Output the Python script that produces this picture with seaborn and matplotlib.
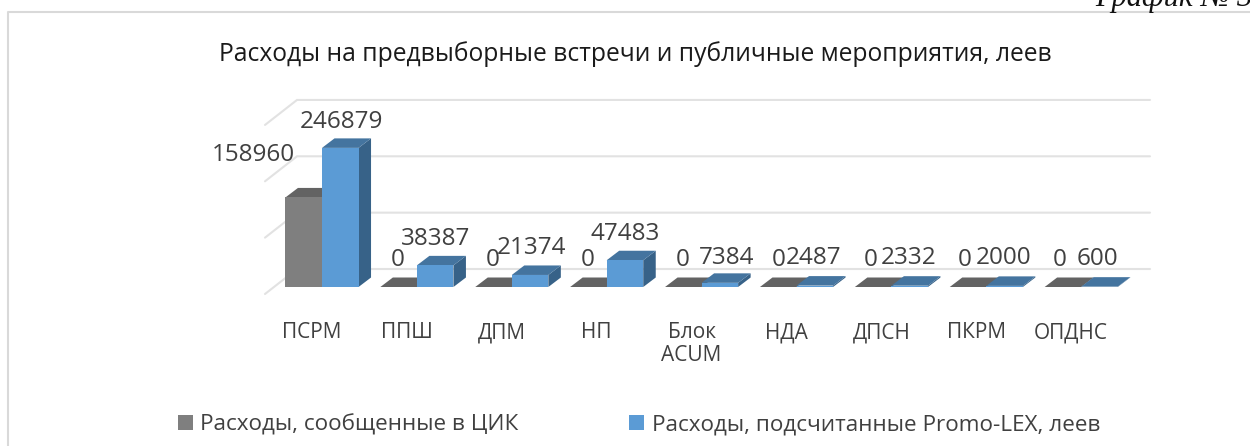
import matplotlib
matplotlib.use("Agg")
import matplotlib.pyplot as plt
import matplotlib.transforms as mtrans
from matplotlib.lines import Line2D
from matplotlib.patches import Polygon, Patch
import pandas as pd
import seaborn as sns

categories = ["ПСРМ", "ППШ", "ДПМ", "НП", "Блок\nACUM", "НДА", "ДПСН", "ПКРМ", "ОПДНС"]
reported = [158960, 0, 0, 0, 0, 0, 0, 0, 0]
counted = [246879, 38387, 21374, 47483, 7384, 2487, 2332, 2000, 600]
series_names = ["Расходы, сообщенные в ЦИК", "Расходы, подсчитанные Promo-LEX, леев"]
grid_values = [0, 100000, 200000, 300000]
title_text = "Расходы на предвыборные встречи и публичные мероприятия, леев"
corner_text = "График № 3"

# label nudges in pixels (dx, dy above the bar top)
reported_dx = [-50, -1, -1, -1, -1, 0, -2, -3, -3]
reported_dy = [42, 27, 27, 27, 27, 27, 27, 27, 27]
counted_dx = [1, 0, 1, 0, 7, -1, -1, -1, -2]
counted_dy = [26, 26, 27, 26, 25, 28, 28, 28, 28]

W, H = 1250, 446
PX_PER_CAT = 94.9
PX_PER_UNIT = 0.5635 / 1000
X0, Y0, AX_BOTTOM = 322.0, 287.0, 310.0
DEPTH_X, DEPTH_Y = 12.5, 9.5
GRAY, BLUE = "#7F7F7F", "#5B9BD5"
GRAY_TOP, GRAY_SIDE = "#636363", "#5C5C5C"
BLUE_TOP, BLUE_SIDE = "#44749F", "#376288"
GRID = "#E2E2E2"
FONT = "Open Sans"
TEXT = "#404040"

sns.set_theme(style="white")
plt.rcParams["font.family"] = [FONT, "DejaVu Sans"]

fig = plt.figure(figsize=(W / 100, H / 100), dpi=100)
ax = fig.add_axes([0, 1 - AX_BOTTOM / H, 1, AX_BOTTOM / H])
ax.patch.set_alpha(0)

df = pd.DataFrame({
    "cat": categories * 2,
    "value": reported + counted,
    "series": [series_names[0]] * 9 + [series_names[1]] * 9,
})
sns.barplot(data=df, x="cat", y="value", hue="series", palette=[GRAY, BLUE],
            width=0.77, gap=0, dodge=True, legend=False, saturation=1,
            errorbar=None, ax=ax, zorder=3, linewidth=0, edgecolor="none")

ax.set_xlim(-X0 / PX_PER_CAT, (W - X0) / PX_PER_CAT)
ax.set_ylim((Y0 - AX_BOTTOM) / PX_PER_UNIT, Y0 / PX_PER_UNIT)
ax.set_xlabel("")
ax.set_ylabel("")
ax.set_yticks([])
for s in ax.spines.values():
    s.set_visible(False)
ax.tick_params(axis="x", length=0, pad=9, labelsize=15, labelcolor=TEXT)
shift = mtrans.ScaledTranslation(-10 / 100, 0, fig.dpi_scale_trans)
for lab in ax.get_xticklabels():
    lab.set_transform(lab.get_transform() + shift)
    lab.set_linespacing(1.12)

dxu = 1 / PX_PER_CAT
dyu = 1 / PX_PER_UNIT

# back wall and floor rules
wall_left, wall_right, edge_left = 297, 1150, 265
wall_lift = 18
for v in grid_values:
    yb = v + wall_lift * dyu
    xa = (wall_left - X0) * dxu
    xb = (wall_right - X0) * dxu
    xc = (edge_left - X0) * dxu
    ax.plot([xc, xa, xb], [yb - 25 * dyu, yb, yb], color=GRID, lw=1.5, zorder=1,
            clip_on=False, solid_joinstyle="miter")

bars = list(ax.patches)
rep_bars, cnt_bars = bars[:9], bars[9:18]


def depth(bar, top_color, side_color, z):
    x, w, h = bar.get_x(), bar.get_width(), bar.get_height()
    ox, oy = DEPTH_X * dxu, DEPTH_Y * dyu
    ax.add_patch(Polygon([(x + w, 0), (x + w + ox, oy), (x + w + ox, h + oy), (x + w, h)],
                         closed=True, fc=side_color, ec="none", zorder=z))
    ax.add_patch(Polygon([(x, h), (x + ox, h + oy), (x + w + ox, h + oy), (x + w, h)],
                         closed=True, fc=top_color, ec="none", zorder=z))


for b in rep_bars:
    b.set_zorder(3)
    depth(b, GRAY_TOP, GRAY_SIDE, 2.5)
for b in cnt_bars:
    b.set_zorder(4)
    depth(b, BLUE_TOP, BLUE_SIDE, 3.5)

for b, v, dx, dy in zip(rep_bars, reported, reported_dx, reported_dy):
    ax.text(b.get_x() + b.get_width() / 2 + dx * dxu, v + dy * dyu, str(v),
            ha="center", va="center", fontsize=17.5, color=TEXT, zorder=6, clip_on=False)
for b, v, dx, dy in zip(cnt_bars, counted, counted_dx, counted_dy):
    ax.text(b.get_x() + b.get_width() / 2 + dx * dxu, v + dy * dyu, str(v),
            ha="center", va="center", fontsize=17.5, color=TEXT, zorder=6, clip_on=False)

fig.text(635 / W, 1 - 54 / H, title_text, ha="center", va="center", fontsize=17.7, color="#1a1a1a")
fig.text(1095 / W, 1 - 6 / H, corner_text, ha="left", va="baseline", fontsize=22,
         style="italic", family="Liberation Serif", color="#111111")

# chart frame
fig.add_artist(Line2D([8 / W, 8 / W, 1], [0, 1 - 12 / H, 1 - 12 / H], color="#D9D9D9", lw=1.5))

handles = [Patch(fc=GRAY, ec="none"), Patch(fc=BLUE, ec="none")]
fig.legend(handles, series_names, ncol=2, frameon=False, loc="center left",
           bbox_to_anchor=(178 / W, 1 - 425 / H), fontsize=16.2, labelcolor=TEXT,
           handlelength=0.65, handleheight=0.65, handletextpad=0.35, columnspacing=4.9,
           borderpad=0, borderaxespad=0)

fig.savefig("out.png", dpi=100)
